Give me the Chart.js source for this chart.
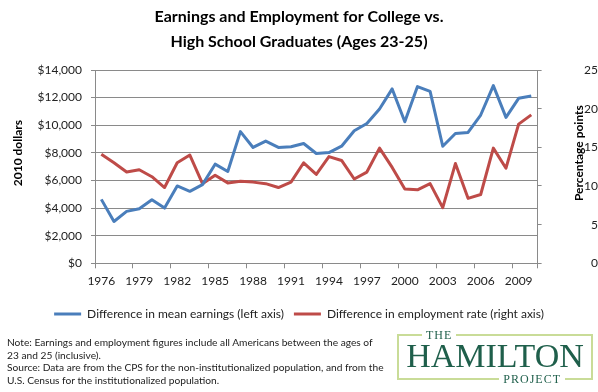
<!DOCTYPE html>
<html>
<head>
<meta charset="utf-8">
<script src="https://cdn.jsdelivr.net/npm/chart.js@4/dist/chart.umd.min.js"></script>
<style>
  body { margin: 0; background: #fff; }
  #wrap { position: relative; width: 598px; height: 392px; overflow: hidden; }
  #note {
    position: absolute; left: 7px; top: 336px;
    font: 10.2px Lato, sans-serif; line-height: 12.6px; color: #222;
    white-space: nowrap;
  }
  #logo {
    position: absolute; left: 397px; top: 334px; width: 192px; height: 42px;
    border: 2px solid #c9dc98;
    font-family: "Liberation Serif", serif; color: #1f5f4b;
  }
  #logo .the { position: absolute; left: 23px; top: -8px; background: #fff; padding: 0 4px; font-size: 12px; letter-spacing: 1px; line-height: 14px; }
  #logo .ham { position: absolute; left: 0; right: 0; top: 1px; text-align: center; font-size: 34px; line-height: 38px; }
  #logo .proj { position: absolute; right: 26px; bottom: -8px; background: #fff; padding: 0 4px; font-size: 12px; letter-spacing: 1px; line-height: 14px; }
</style>
</head>
<body>
<div id="wrap">
  <canvas id="chart" width="598" height="392"></canvas>
  <div id="note">
    Note: Earnings and employment figures include all Americans between the ages of<br>
    23 and 25 (inclusive).<br>
    Source: Data are from the CPS for the non-institutionalized population, and from the<br>
    U.S. Census for the institutionalized population.
  </div>
  <div id="logo">
    <span class="the">THE</span>
    <div class="ham">HAMILTON</div>
    <span class="proj">PROJECT</span>
  </div>
</div>
<script>
// data
const years = [1976, 1977, 1978, 1979, 1980, 1981, 1982, 1983, 1984, 1985, 1986, 1987,
  1988, 1989, 1990, 1991, 1992, 1993, 1994, 1995, 1996, 1997, 1998, 1999, 2000,
  2001, 2002, 2003, 2004, 2005, 2006, 2007, 2008, 2009, 2010];
const tickYears = [1976, 1979, 1982, 1985, 1988, 1991, 1994, 1997, 2000, 2003, 2006, 2009];

// Difference in mean earnings, 2010 dollars (left axis)
const earningsGap = [4630, 3030, 3760, 3950, 4600, 4000, 5600, 5210, 5700, 7180, 6650, 9540,
  8390, 8850, 8390, 8440, 8680, 7950, 8020, 8480, 9600, 10130, 11180, 12630, 10250,
  12800, 12450, 8480, 9400, 9480, 10740, 12870, 10570, 11950, 12120];

// Difference in employment rate, percentage points (right axis)
const employmentGap = [14.1, 13.0, 11.8, 12.1, 11.2, 9.8, 13.0, 14.0, 10.3, 11.4, 10.4, 10.6,
  10.5, 10.3, 9.8, 10.5, 13.0, 11.5, 13.8, 13.3, 10.9, 11.8, 14.9, 12.4, 9.6,
  9.5, 10.3, 7.2, 12.9, 8.4, 8.9, 14.9, 12.3, 18.0, 19.2];

const titleLines = ['Earnings and Employment for College vs.', 'High School Graduates (Ages 23-25)'];
const leftTitle = '2010 dollars';
const rightTitle = 'Percentage points';

const gridGray = '#8a8a8a';
const textColor = '#222';
const fontName = 'Lato';

// axis titles drawn bottom-to-top on both sides, like the original
const axisTitles = {
  id: 'axisTitles',
  afterDraw(chart) {
    const { ctx, chartArea } = chart;
    const midY = chartArea.top + (chartArea.bottom - chartArea.top) * 0.43;
    ctx.save();
    ctx.font = 'bold 12px ' + fontName;
    ctx.fillStyle = '#000';
    ctx.textAlign = 'center';
    ctx.textBaseline = 'middle';
    ctx.translate(chart.scales.y.left + 18, midY);
    ctx.rotate(-Math.PI / 2);
    ctx.fillText(leftTitle, 0, 0);
    ctx.restore();
    ctx.save();
    ctx.font = 'bold 12px ' + fontName;
    ctx.fillStyle = '#000';
    ctx.textAlign = 'center';
    ctx.textBaseline = 'middle';
    ctx.translate(chart.scales.y1.right - 19, midY);
    ctx.rotate(-Math.PI / 2);
    ctx.fillText(rightTitle, 0, 0);
    ctx.restore();
  }
};

const ctx = document.getElementById('chart').getContext('2d');
new Chart(ctx, {
  type: 'line',
  data: {
    labels: years,
    datasets: [
      {
        label: 'Difference in mean earnings (left axis)',
        data: earningsGap,
        yAxisID: 'y',
        borderColor: '#4a7ebb',
        backgroundColor: '#4a7ebb',
        borderWidth: 3,
        pointRadius: 0,
        tension: 0,
        borderJoinStyle: 'round'
      },
      {
        label: 'Difference in employment rate (right axis)',
        data: employmentGap,
        yAxisID: 'y1',
        borderColor: '#be4b48',
        backgroundColor: '#be4b48',
        borderWidth: 3,
        pointRadius: 0,
        tension: 0,
        borderJoinStyle: 'round'
      }
    ]
  },
  options: {
    responsive: false,
    animation: false,
    layout: { padding: { top: 0, left: 0, right: 0, bottom: 62 } },
    plugins: {
      title: {
        display: true,
        text: titleLines,
        color: '#000',
        font: { family: fontName, size: 16, weight: 'bold', lineHeight: 1.5625 },
        padding: { top: 4.5, bottom: 15.5 }
      },
      legend: {
        position: 'bottom',
        labels: {
          usePointStyle: true,
          pointStyle: 'line',
          pointStyleWidth: 27,
          color: textColor,
          font: { family: fontName, size: 12 },
          padding: 10
        }
      },
      tooltip: { enabled: false }
    },
    scales: {
      x: {
        offset: true,
        grid: {
          offset: true,
          drawOnChartArea: false,
          tickLength: 5,
          color: c => (c.index === undefined || c.index % 3 === 0) ? gridGray : 'rgba(0,0,0,0)'
        },
        border: { color: gridGray },
        ticks: {
          autoSkip: false,
          maxRotation: 0,
          padding: 6,
          color: textColor,
          font: { family: fontName, size: 12 },
          callback: function (v, i) {
            const yr = years[i];
            return tickYears.includes(yr) ? String(yr) : '';
          }
        },
        afterFit(s) { s.height = 34.7; }
      },
      y: {
        position: 'left',
        min: 0,
        max: 14000,
        grid: { color: gridGray, tickLength: 4 },
        border: { color: gridGray },
        ticks: {
          stepSize: 2000,
          padding: 9,
          color: textColor,
          font: { family: fontName, size: 12 },
          callback: v => '$' + v.toLocaleString('en-US')
        },
        afterFit(s) { s.width = 95; }
      },
      y1: {
        position: 'right',
        min: 0,
        max: 25,
        grid: { drawOnChartArea: false, color: gridGray, tickLength: 4 },
        border: { color: gridGray },
        ticks: {
          stepSize: 5,
          padding: 2,
          crossAlign: 'far',
          color: textColor,
          font: { family: fontName, size: 12 }
        },
        afterFit(s) { s.width = 60.4; }
      }
    }
  },
  plugins: [axisTitles]
});
</script>
</body>
</html>
